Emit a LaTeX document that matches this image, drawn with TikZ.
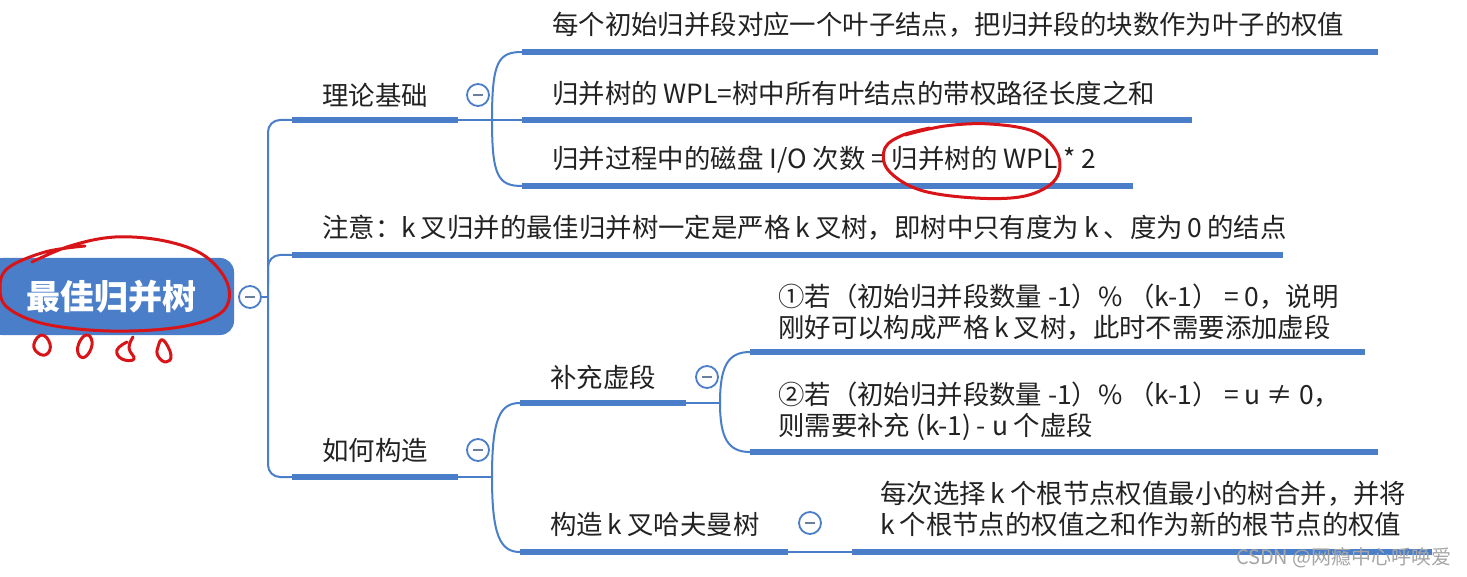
\documentclass[tikz,border=0pt]{standalone}
\usepackage{fontspec}
\setmainfont{Noto Sans CJK SC}
\definecolor{mmblue}{HTML}{4A7EC9}
\definecolor{inkred}{HTML}{D81418}
\definecolor{txtc}{HTML}{222222}
\newcommand{\kk}{\kern5pt k\kern5pt}
\tikzset{
  bar/.style={line width=6pt, mmblue},
  link/.style={line width=2pt, mmblue},
  txt/.style={anchor=west, inner sep=0pt, font=\fontsize{26.4}{31}\selectfont, text=txtc, align=left},
  fold/.style={circle, draw=mmblue, line width=1.8pt, fill=white, minimum size=22pt, inner sep=0pt,
    path picture={\draw[line width=2.2pt, gray!60!mmblue] ([xshift=-5pt]path picture bounding box.center)--([xshift=5pt]path picture bounding box.center);}},
  redink/.style={inkred, line width=3pt, line cap=round, line join=round},
}
\begin{document}
\begin{tikzpicture}[x=1pt,y=-1pt]
\useasboundingbox (0,0) rectangle (1467,577);
\fill[white] (0,0) rectangle (1467,577);

% root
\node[fill=mmblue, rounded corners=14pt, minimum width=246pt, minimum height=77pt, inner sep=0pt,
      text=white, font=\fontsize{34}{38}\selectfont\bfseries] (root) at (111,296.5) {最佳归并树};
\node[fold] (c0) at (250,297) {};

% trunk
\coordinate (trunk) at (268,297);
\coordinate (thL) at (292,120);
\coordinate (thR) at (458,120);
\coordinate (thb) at (492,120);
\coordinate (hoL) at (292,477);
\coordinate (hoR) at (458,477);
\coordinate (hob) at (492,477);
\coordinate (noL) at (292,255);
\coordinate (noR) at (1283,255);
\draw[link] (c0.east) -- (trunk);
\draw[link, rounded corners=12pt] (thL) -- (268,120) -- (268,477) -- (hoL);
\draw[link, rounded corners=12pt] (268,285) -- (268,255) -- (noL);

% theory
\node[txt] (th) at (322,95) {理论基础};
\node[fold] (fth) at (478,95) {};
\draw[bar] (thL) -- (thR);
\draw[link] (thR) -- (thb);

\coordinate (a1L) at (522,52);  \coordinate (a1R) at (1378,52);
\coordinate (a2L) at (522,120); \coordinate (a2R) at (1192,120);
\coordinate (a3L) at (522,186); \coordinate (a3R) at (1133,186);
\draw[link] (thb) .. controls (492,62) and (498,52) .. (a1L);
\draw[link] (thb) -- (a2L);
\draw[link] (thb) .. controls (492,176) and (498,186) .. (a3L);
\draw[bar] (a1L) -- (a1R);
\draw[bar] (a2L) -- (a2R);
\draw[bar] (a3L) -- (a3R);
\node[txt] (a1) at (552,25) {每个初始归并段对应一个叶子结点，把归并段的块数作为叶子的权值};
\node[txt] (a2) at (552,93) {归并树的 WPL=树中所有叶结点的带权路径长度之和};
\node[txt] (a3) at (552,160) {归并过程中的磁盘 I/O 次数 = 归并树的 WPL * 2};

% note
\draw[bar] (noL) -- (noR);
\node[txt] (no) at (322,228) {注意：k\kern5pt 叉归并的最佳归并树一定是严格\kk 叉树，即树中只有度为\kk、度为\kern5pt 0\kern5pt 的结点};

% how
\node[txt] (ho) at (322,450) {如何构造};
\node[fold] (fho) at (478,450) {};
\draw[bar] (hoL) -- (hoR);
\draw[link] (hoR) -- (hob);

\coordinate (b1L) at (520,403); \coordinate (b1R) at (686,403); \coordinate (b1b) at (720,403);
\coordinate (b2L) at (520,552); \coordinate (b2R) at (788,552); \coordinate (b2b) at (852,552);
\draw[link] (hob) .. controls (492,418) and (500,403) .. (b1L);
\draw[link] (hob) .. controls (492,535) and (500,552) .. (b2L);
\draw[bar] (b1L) -- (b1R);
\draw[link] (b1R) -- (b1b);
\draw[bar] (b2L) -- (b2R);
\draw[link] (b2R) -- (b2b);
\node[txt] (b1) at (550,377) {补充虚段};
\node[fold] (fb1) at (707,377) {};
\node[txt] (b2) at (550,525) {构造\kk 叉哈夫曼树};
\node[fold] (fb2) at (810,523) {};

\coordinate (c1L) at (750,352); \coordinate (c1R) at (1365,352);
\coordinate (c2L) at (750,452); \coordinate (c2R) at (1378,452);
\coordinate (d1R) at (1432,552);
\draw[link] (b1b) .. controls (720,366) and (728,352) .. (c1L);
\draw[link] (b1b) .. controls (720,438) and (728,452) .. (c2L);
\draw[bar] (c1L) -- (c1R);
\draw[bar] (c2L) -- (c2R);
\draw[bar] (b2b) -- (d1R);
\node[txt] (c1) at (778,312) {①若（初始归并段数量 -1）\% （k-1） = 0，说明\\刚好可以构成严格\kk 叉树，此时不需要添加虚段};
\node[txt] (c2) at (778,411) {②若（初始归并段数量 -1）\% （k-1） = u ≠ 0，\\则需要补充 (k-1) - u 个虚段};
\node[txt] (d1) at (880,509) {每次选择\kk 个根节点权值最小的树合并，并将\\k\kern5pt 个根节点的权值之和作为新的根节点的权值};

% watermark
\node[anchor=east, inner sep=0pt, font=\fontsize{20}{24}\selectfont, text=gray!70] (wm) at (1452,558) {CSDN @网瘾中心呼唤爱};

% red annotations
\draw[redink] plot[smooth, tension=0.6] coordinates {(32,262) (70,246) (115,237) (165,241) (205,256) (228,285) (222,312) (180,327) (110,331) (45,324) (8,308) (0,288) (8,268) (45,252) (85,246)};
\draw[redink] plot[smooth cycle, tension=0.8] coordinates {(42,335) (50,344) (47,354) (38,353) (34,344)};
\draw[redink] plot[smooth cycle, tension=0.8] coordinates {(88,335) (92,345) (85,357) (78,353) (80,341)};
\draw[redink] plot[smooth, tension=0.8] coordinates {(133,337) (129,348) (134,359) (122,359) (117,350) (127,342)};
\draw[redink] plot[smooth cycle, tension=0.8] coordinates {(163,340) (171,355) (166,362) (158,356) (158,347)};
\draw[redink] plot[smooth, tension=0.6] coordinates {(905,135) (945,126) (990,124) (1035,132) (1058,155) (1055,180) (1025,196) (975,198) (920,190) (888,170) (885,148) (903,135) (930,128)};
\end{tikzpicture}
\end{document}
